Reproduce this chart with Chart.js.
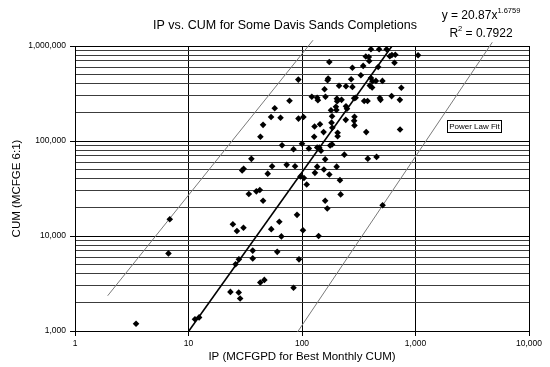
<!DOCTYPE html>
<html>
<head>
<meta charset="utf-8">
<script src="https://cdn.jsdelivr.net/npm/chart.js@4.4.1/dist/chart.umd.min.js"></script>
<style>
  html, body { margin: 0; padding: 0; background: #fff; }
</style>
</head>
<body>
<canvas id="chart" width="550" height="367"></canvas>
<script>
(function() {
  'use strict';

  // --- Data ---
  const ipValues = [
    405, 478, 556, 365, 388, 391, 174, 278, 346, 594,
    619, 664, 653, 1054, 469, 330, 170, 168, 271, 405,
    417, 448, 511, 396, 415, 158, 212, 244, 278, 750,
    92.8, 122, 136, 138, 161, 203, 204, 223, 288, 297,
    353, 378, 485, 492, 616, 728, 77.6, 199, 244, 249,
    180, 201, 93.1, 103, 53.4, 64.7, 57.5, 45.4, 43.0, 184,
    243, 290, 288, 290, 129, 144, 182, 185, 731, 368,
    128, 155, 206, 206, 66.7, 84.2, 100, 115, 136, 142,
    147, 177, 184, 236, 160, 380, 454, 35.8, 29.7, 30.6,
    54.5, 73.3, 86.8, 49.9, 97.0, 104, 110, 136, 202, 130,
    156, 174, 216, 219, 160, 167, 513, 102, 140, 34.0,
    39.6, 42.5, 45.4, 6.84, 90.4, 63.1, 53.6, 65.8, 24.6, 26.7,
    30.5, 6.66, 36.8, 36.8, 60.5, 94.1, 27.8, 26.0, 42.9, 46.6,
    84.2, 23.4, 27.7, 28.5, 11.4, 12.4, 3.45
  ];
  const cumValues = [
    923000, 923000, 923000, 774000, 766000, 695000, 679000, 590000, 617000, 780000,
    804000, 808000, 666000, 798000, 601000, 492000, 454000, 436000, 447000, 461000,
    425000, 429000, 429000, 383000, 366000, 350000, 381000, 377000, 371000, 363000,
    443000, 292000, 285000, 269000, 292000, 279000, 262000, 271000, 282000, 285000,
    264000, 264000, 284000, 271000, 297000, 271000, 265000, 229000, 232000, 219000,
    211000, 212000, 172000, 179000, 179000, 176000, 221000, 148000, 111000, 182000,
    167000, 180000, 163000, 146000, 142000, 150000, 156000, 138000, 132000, 124000,
    111000, 124000, 122000, 112000, 90300, 82000, 93700, 83400, 85500, 85100,
    79100, 89700, 92100, 71800, 64100, 65200, 68000, 64900, 49000, 51100,
    54300, 56100, 54300, 45300, 42400, 40800, 34900, 53700, 53700, 46200,
    50200, 44400, 38700, 27400, 23500, 19500, 21100, 11500, 10000, 27700,
    29500, 30500, 23500, 15000, 16700, 14100, 11800, 9900, 13300, 11300,
    12200, 6560, 7020, 5810, 6810, 5680, 5680, 5040, 3240, 3450,
    2850, 2580, 2540, 2200, 1330, 1390, 1190
  ];

  // power law trendline, ends where it leaves the plot
  const trendIp  = [10.07, 621];
  const trendCum = [1000, 1000000];

  // two thin guide lines
  const upperGuideIp  = [1.94, 125];
  const upperGuideCum = [2350, 1150000];
  const lowerGuideIp  = [91.3, 4750];
  const lowerGuideCum = [975, 1095000];

  const xTicks = [1, 10, 100, 1000, 10000];
  const yTicks = [1000, 10000, 100000, 1000000];
  const minorSteps = [2, 3, 4, 5, 6, 7, 8, 9];

  const TITLE    = 'IP vs. CUM for Some Davis Sands Completions';
  const X_TITLE  = 'IP (MCFGPD for Best Monthly CUM)';
  const Y_TITLE  = 'CUM (MCFGE 6:1)';
  const FIT_NOTE = 'Power Law Fit';
  const EQ_MAIN  = 'y = 20.87x';
  const EQ_EXP   = '1.6759';
  const R2_TEXT  = ' = 0.7922';

  const FONT = 'Arial, "Liberation Sans", sans-serif';

  // --- helpers ---
  const fmt = v => Number(v).toLocaleString('en-US');
  const isDecade = v => Math.abs(Math.log10(v) - Math.round(Math.log10(v))) < 1e-9;
  const pair = (xs, ys) => xs.map((x, i) => ({ x: x, y: ys[i] }));

  // y gets minor grid lines between the decades
  const yGrid = [];
  yTicks.forEach((d, i) => {
    yGrid.push(d);
    if (i < yTicks.length - 1) minorSteps.forEach(m => yGrid.push(d * m));
  });

  // --- text that sits outside the axes ---
  const textPlugin = {
    id: 'chartText',
    afterDraw(chart) {
      const ctx = chart.ctx;
      ctx.save();
      ctx.fillStyle = '#000';

      // title
      ctx.font = '12.5px ' + FONT;
      ctx.textAlign = 'center';
      ctx.textBaseline = 'middle';
      ctx.fillText(TITLE, 285, 26);

      // equation with superscripts
      ctx.textAlign = 'left';
      ctx.textBaseline = 'alphabetic';
      const cx = 481;
      ctx.font = '12px ' + FONT;
      const wMain = ctx.measureText(EQ_MAIN).width;
      ctx.font = '7.5px ' + FONT;
      const wExp = ctx.measureText(EQ_EXP).width;
      let x0 = cx - (wMain + wExp) / 2;
      ctx.font = '12px ' + FONT;
      ctx.fillText(EQ_MAIN, x0, 19);
      ctx.font = '7.5px ' + FONT;
      ctx.fillText(EQ_EXP, x0 + wMain, 13);

      ctx.font = '12px ' + FONT;
      const wR = ctx.measureText('R').width;
      const wRest = ctx.measureText(R2_TEXT).width;
      ctx.font = '7.5px ' + FONT;
      const w2 = ctx.measureText('2').width;
      x0 = cx - (wR + w2 + wRest) / 2;
      ctx.font = '12px ' + FONT;
      ctx.fillText('R', x0, 37);
      ctx.fillText(R2_TEXT, x0 + wR + w2, 37);
      ctx.font = '7.5px ' + FONT;
      ctx.fillText('2', x0 + wR, 31);

      // boxed note
      ctx.strokeStyle = '#000';
      ctx.lineWidth = 1;
      ctx.strokeRect(447.5, 120.5, 54, 12);
      ctx.font = '8px ' + FONT;
      ctx.textAlign = 'center';
      ctx.textBaseline = 'middle';
      ctx.fillText(FIT_NOTE, 474.5, 127);
      ctx.restore();
    }
  };

  new Chart(document.getElementById('chart'), {
    type: 'scatter',
    data: {
      datasets: [
        {
          label: 'Completions',
          data: pair(ipValues, cumValues),
          pointStyle: 'rectRot',
          pointRadius: 3.3,
          pointBackgroundColor: '#000',
          pointBorderWidth: 0,
          showLine: false
        },
        {
          label: 'Power Law Fit',
          data: pair(trendIp, trendCum),
          showLine: true,
          borderColor: '#000',
          borderWidth: 1.6,
          pointRadius: 0
        },
        {
          label: 'Upper guide',
          data: pair(upperGuideIp, upperGuideCum),
          showLine: true,
          borderColor: '#7a7a7a',
          borderWidth: 1,
          pointRadius: 0,
          clip: false
        },
        {
          label: 'Lower guide',
          data: pair(lowerGuideIp, lowerGuideCum),
          showLine: true,
          borderColor: '#7a7a7a',
          borderWidth: 1,
          pointRadius: 0,
          clip: false
        }
      ]
    },
    options: {
      responsive: false,
      animation: false,
      devicePixelRatio: 1,
      layout: { padding: { left: 0, right: 21, top: 46, bottom: 0 } },
      plugins: {
        legend: { display: false },
        tooltip: { enabled: false },
        title: { display: false }
      },
      scales: {
        x: {
          type: 'logarithmic',
          min: 1,
          max: 10000,
          afterBuildTicks: s => { s.ticks = xTicks.map(v => ({ value: v })); },
          afterFit: s => { s.height = 36; },
          ticks: {
            autoSkip: false,
            maxRotation: 0,
            padding: 3,
            color: '#000',
            font: { family: FONT, size: 8.5 },
            callback: v => fmt(v)
          },
          grid: { color: '#000', lineWidth: 1, tickLength: 5, tickColor: '#000' },
          border: { color: '#000', width: 1 },
          title: {
            display: true,
            text: X_TITLE,
            color: '#000',
            font: { family: FONT, size: 11.5 },
            padding: { top: 0, bottom: 3 }
          }
        },
        y: {
          type: 'logarithmic',
          min: 1000,
          max: 1000000,
          afterBuildTicks: s => { s.ticks = yGrid.map(v => ({ value: v })); },
          afterFit: s => { s.width = 75; },
          ticks: {
            autoSkip: false,
            padding: 4,
            color: '#000',
            font: { family: FONT, size: 8.5 },
            callback: v => isDecade(v) ? fmt(v) : ''
          },
          grid: {
            color: ctx => isDecade(ctx.tick.value) ? '#000' : '#3c3c3c',
            lineWidth: 1,
            tickLength: 5,
            tickColor: ctx => isDecade(ctx.tick.value) ? '#000' : 'rgba(0,0,0,0)'
          },
          border: { color: '#000', width: 1 },
          title: {
            display: true,
            text: Y_TITLE,
            color: '#000',
            font: { family: FONT, size: 11.5 },
            padding: { top: 10, bottom: 0 }
          }
        }
      }
    },
    plugins: [textPlugin]
  });
})();
</script>
</body>
</html>
